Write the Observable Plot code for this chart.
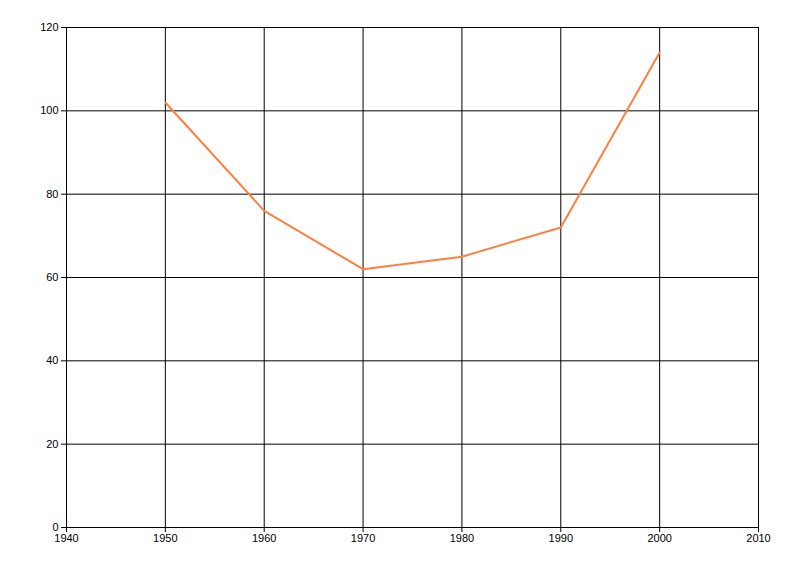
<!DOCTYPE html>
<html>
<head>
<meta charset="utf-8">
<script src="https://cdn.jsdelivr.net/npm/d3@7"></script>
<script src="https://cdn.jsdelivr.net/npm/@observablehq/plot@0.6"></script>
<style>
  body { margin: 0; background: #fff; }
</style>
</head>
<body>
<div id="chart"></div>
<script>
const years = [1950, 1960, 1970, 1980, 1990, 2000];
const values = [102, 76, 62, 65, 72, 114];
const xTicks = [1940, 1950, 1960, 1970, 1980, 1990, 2000, 2010];
const yTicks = [0, 20, 40, 60, 80, 100, 120];

const data = years.map((y, i) => ({year: y, value: values[i]}));

const chart = Plot.plot({
  width: 800,
  height: 576,
  marginLeft: 66,
  marginRight: 42,
  marginTop: 27,
  marginBottom: 49,
  style: {fontFamily: "Liberation Sans, Arial, sans-serif", fontSize: "11px", color: "#000", background: "#fff"},
  x: {domain: [1940, 2010]},
  y: {domain: [0, 120]},
  marks: [
    Plot.gridX(xTicks, {stroke: "#000", strokeOpacity: 1}),
    Plot.gridY(yTicks, {stroke: "#000", strokeOpacity: 1}),
    Plot.axisX(xTicks, {tickSize: 5, tickPadding: 2, tickFormat: d => String(d), label: null, stroke: "#000"}),
    Plot.axisY(yTicks, {tickSize: 5, tickPadding: 3, label: null, stroke: "#000"}),
    Plot.line(data, {x: "year", y: "value", stroke: "#ff7f3f", strokeWidth: 2})
  ]
});
document.getElementById("chart").appendChild(chart);
</script>
</body>
</html>
